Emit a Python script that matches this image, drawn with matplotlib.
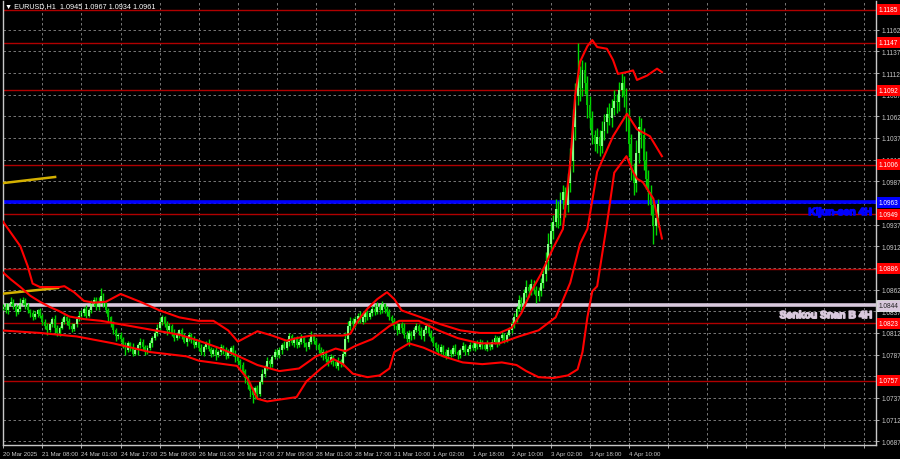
import matplotlib
matplotlib.use('Agg')
import matplotlib.pyplot as plt
import matplotlib.patheffects as pe
from matplotlib import font_manager
from matplotlib.transforms import blended_transform_factory

# hourly closes, 20 Mar 16:00 .. 4 Apr 22:00
closes = [
    1.0842, 1.0838, 1.0845, 1.0848, 1.0843, 1.0836, 1.0840, 1.0846, 1.0850, 1.0844, 1.0838, 1.0835, 1.0830, 1.0834, 1.0838, 1.0832,
    1.0825, 1.0820, 1.0815, 1.0822, 1.0828, 1.0818, 1.0812, 1.0818, 1.0825, 1.0830, 1.0826, 1.0820, 1.0816, 1.0822, 1.0828, 1.0832,
    1.0835, 1.0840, 1.0832, 1.0838, 1.0845, 1.0850, 1.0842, 1.0848, 1.0855, 1.0846, 1.0838, 1.0830, 1.0822, 1.0815, 1.0808, 1.0810,
    1.0805, 1.0798, 1.0792, 1.0800, 1.0795, 1.0788, 1.0792, 1.0798, 1.0802, 1.0796, 1.0790, 1.0795, 1.0800, 1.0806, 1.0812, 1.0818,
    1.0825, 1.0830, 1.0822, 1.0815, 1.0820, 1.0812, 1.0806, 1.0810, 1.0815, 1.0808, 1.0802, 1.0806, 1.0810, 1.0804, 1.0798, 1.0802,
    1.0795, 1.0790, 1.0796, 1.0800, 1.0794, 1.0788, 1.0792, 1.0786, 1.0790, 1.0796, 1.0792, 1.0785, 1.0790, 1.0795, 1.0788, 1.0784,
    1.0780, 1.0775, 1.0768, 1.0760, 1.0752, 1.0745, 1.0740, 1.0748, 1.0742, 1.0755, 1.0765, 1.0772, 1.0780, 1.0776, 1.0784, 1.0790,
    1.0786, 1.0792, 1.0798, 1.0795, 1.0802, 1.0808, 1.0800, 1.0805, 1.0798, 1.0802, 1.0806, 1.0800, 1.0796, 1.0802, 1.0808, 1.0803,
    1.0798, 1.0792, 1.0786, 1.0790, 1.0782, 1.0778, 1.0784, 1.0778, 1.0774, 1.0780, 1.0776, 1.0788, 1.0805, 1.0820, 1.0826, 1.0822,
    1.0828, 1.0832, 1.0825, 1.0830, 1.0836, 1.0830, 1.0835, 1.0840, 1.0836, 1.0842, 1.0838, 1.0845, 1.0840, 1.0836, 1.0830, 1.0826,
    1.0820, 1.0815, 1.0822, 1.0818, 1.0810, 1.0805, 1.0812, 1.0808, 1.0815, 1.0820, 1.0814, 1.0808, 1.0815, 1.0820, 1.0812, 1.0806,
    1.0800, 1.0795, 1.0790, 1.0796, 1.0790, 1.0785, 1.0792, 1.0788, 1.0795, 1.0790, 1.0786, 1.0792, 1.0797, 1.0790, 1.0794, 1.0798,
    1.0795, 1.0800, 1.0796, 1.0802, 1.0798, 1.0794, 1.0800, 1.0796, 1.0802, 1.0806, 1.0800, 1.0806, 1.0810, 1.0804, 1.0810, 1.0815,
    1.0822, 1.0830, 1.0840, 1.0850, 1.0845, 1.0858, 1.0865, 1.0860, 1.0868, 1.0862, 1.0855, 1.0860, 1.0870, 1.0880, 1.0895, 1.0915,
    1.0930, 1.0940, 1.0955, 1.0945, 1.0965, 1.0975, 1.0960, 1.0985, 1.1010, 1.1050, 1.1085, 1.1110, 1.1095, 1.1115, 1.1100, 1.1075,
    1.1060, 1.1040, 1.1030, 1.1038, 1.1028, 1.1045, 1.1055, 1.1065, 1.1060, 1.1072, 1.1080, 1.1078, 1.1092, 1.1100, 1.1085, 1.1060,
    1.1030, 1.1000, 1.0985, 1.1020, 1.1050, 1.1040, 1.1010, 1.0990, 1.0975, 1.0960, 1.0935, 1.0945, 1.0961,
]
first_open = 1.0840

# wick lengths in pips above / below the body
up_wick = [
    3, 4, 2, 5, 3, 2, 4, 6, 3, 2, 3, 2, 4, 3, 2, 3,
    2, 3, 4, 3, 2, 5, 3, 2, 4, 3, 2, 3, 4, 2, 3, 5,
    3, 2, 4, 3, 5, 4, 3, 6, 9, 3, 2, 3, 2, 4, 3, 2,
    3, 2, 4, 3, 2, 5, 3, 2, 4, 3, 2, 3, 4, 2, 3, 4,
    5, 3, 2, 4, 3, 2, 4, 3, 2, 3, 4, 2, 3, 2, 4, 3,
    3, 4, 2, 3, 5, 2, 3, 4, 2, 3, 2, 4, 3, 2, 3, 4,
    3, 2, 3, 2, 4, 3, 5, 3, 4, 3, 5, 3, 4, 2, 3, 4,
    3, 4, 2, 5, 3, 4, 3, 2, 4, 3, 5, 3, 2, 4, 6, 3,
    3, 2, 4, 3, 2, 3, 4, 2, 3, 4, 2, 5, 8, 6, 4, 3,
    4, 3, 5, 4, 3, 2, 4, 3, 5, 6, 3, 4, 2, 3, 4, 3,
    3, 4, 2, 3, 5, 4, 3, 2, 4, 3, 2, 5, 3, 4, 2, 3,
    3, 2, 4, 3, 2, 3, 4, 2, 3, 4, 2, 3, 4, 2, 3, 3,
    3, 2, 4, 3, 2, 3, 4, 2, 3, 4, 2, 3, 4, 2, 3, 4,
    4, 5, 3, 6, 4, 5, 8, 4, 6, 5, 4, 5, 6, 8, 10, 12,
    10, 8, 12, 9, 10, 8, 6, 12, 15, 20, 15, 37, 10, 12, 10, 8,
    10, 8, 6, 10, 8, 12, 10, 8, 12, 10, 12, 8, 10, 12, 8, 10,
    10, 12, 8, 15, 12, 10, 8, 12, 10, 8, 6, 8, 6,
]
down_wick = [
    2, 3, 4, 2, 3, 5, 2, 3, 2, 4, 3, 5, 3, 2, 4, 3,
    4, 3, 5, 2, 3, 6, 4, 3, 2, 3, 5, 4, 3, 2, 3, 2,
    2, 4, 3, 2, 3, 2, 4, 3, 2, 4, 3, 5, 3, 4, 5, 3,
    4, 3, 5, 2, 4, 3, 2, 5, 3, 4, 3, 2, 3, 4, 2, 3,
    3, 4, 3, 5, 2, 4, 3, 2, 4, 3, 2, 5, 3, 4, 3, 2,
    4, 3, 5, 2, 3, 4, 3, 5, 2, 3, 4, 3, 2, 4, 3, 5,
    4, 5, 3, 6, 5, 7, 9, 4, 6, 3, 2, 4, 3, 5, 3, 2,
    2, 3, 4, 2, 3, 5, 2, 4, 3, 2, 3, 4, 5, 2, 3, 4,
    4, 3, 2, 5, 3, 4, 2, 4, 3, 5, 3, 2, 3, 4, 5, 3,
    3, 4, 2, 3, 5, 3, 2, 4, 3, 2, 4, 3, 5, 4, 3, 5,
    4, 5, 3, 6, 4, 3, 8, 4, 3, 2, 4, 3, 5, 3, 4, 3,
    3, 4, 3, 2, 4, 3, 2, 4, 3, 2, 4, 3, 2, 4, 3, 3,
    3, 4, 2, 3, 4, 2, 3, 4, 2, 3, 4, 2, 3, 4, 3, 2,
    3, 4, 5, 3, 6, 4, 5, 6, 4, 5, 8, 6, 5, 6, 8, 10,
    8, 10, 6, 12, 8, 10, 14, 8, 10, 12, 15, 10, 15, 10, 12, 15,
    12, 10, 8, 10, 12, 8, 10, 12, 8, 10, 8, 12, 10, 8, 12, 15,
    15, 12, 14, 10, 12, 15, 10, 12, 15, 12, 20, 10, 11,
]

# red envelope lines (bar index, price)
upper_idx = [-1, 3, 7, 10, 12, 15, 23, 25, 29, 33, 37, 42, 48, 56, 64, 72, 80, 86, 92, 96, 100, 104, 110, 116, 120,
             126, 132, 139, 142, 145, 149, 153, 157, 160, 163, 171, 179, 187, 195, 203, 208, 212, 216, 220, 225,
             229, 232, 234, 236, 239, 241, 243, 247, 249.5, 251.5, 255, 257.7, 259.3, 263.4, 267.5, 269.5]
upper_px = [1.0944, 1.0928, 1.0912, 1.0889, 1.0869, 1.0865, 1.0865, 1.0866, 1.0859, 1.0849, 1.0847, 1.0848, 1.0857,
            1.0848, 1.0838, 1.0830, 1.0826, 1.0826, 1.0815, 1.0802, 1.0808, 1.0814, 1.0809, 1.0803, 1.0806,
            1.0809, 1.0809, 1.0809, 1.0811, 1.0826, 1.0840, 1.0851, 1.0859, 1.0851, 1.0838, 1.0830, 1.0822,
            1.0815, 1.0812, 1.0812, 1.0818, 1.0835, 1.0860, 1.0880, 1.0910,
            1.0932, 1.1009, 1.1086, 1.1125, 1.1143, 1.1150, 1.1142, 1.1140, 1.1127, 1.1111, 1.1113, 1.1115,
            1.1104, 1.1109, 1.1117, 1.1113]
middle_idx = [-1, 3, 7, 11, 15, 19, 23, 27, 33, 40, 48, 56, 64, 72, 80, 88, 95.6, 104, 113, 121, 128, 136, 140,
              144, 151, 158, 162, 170, 178, 186, 195, 203, 211, 219, 226, 232, 236, 239, 243, 249.5, 255.2,
              259.3, 264.6, 269.5]
middle_px = [1.0884, 1.0874, 1.0865, 1.0855, 1.0848, 1.0842, 1.0837, 1.0831, 1.0828, 1.0826, 1.0822, 1.0818, 1.0814,
             1.0810, 1.0803, 1.0795, 1.0786, 1.0775, 1.0768, 1.0771, 1.0785, 1.0794, 1.0791, 1.0797, 1.0805,
             1.0820, 1.0826, 1.0826, 1.0815, 1.0806, 1.0800, 1.0800, 1.0808, 1.0815, 1.0830, 1.0870, 1.0915,
             1.0932, 1.0998, 1.1039, 1.1065, 1.1047, 1.1039, 1.1016]
lower_idx = [-1, 15, 30, 45, 60, 75, 80, 95.6, 100, 104, 108, 120, 124, 130, 135, 139, 143, 149, 154, 158, 160,
             166, 172, 180, 188, 196, 204, 210, 214, 219, 225, 231, 235, 237, 239, 241, 243, 247, 250, 255,
             257.7, 259.3, 261.7, 266, 269.5]
lower_px = [1.0815, 1.0812, 1.0808, 1.0800, 1.0790, 1.0785, 1.0780, 1.0774, 1.0759, 1.0736, 1.0733, 1.0738,
            1.0756, 1.0771, 1.0782, 1.0776, 1.0765, 1.0761, 1.0763, 1.0771, 1.0790, 1.0800, 1.0795, 1.0785,
            1.0778, 1.0776, 1.0778, 1.0775, 1.0768, 1.0761, 1.0760, 1.0763, 1.0770, 1.0790, 1.0830, 1.0860,
            1.0866, 1.0938, 1.0997, 1.1016, 1.0998, 1.0990, 1.0986, 1.0967, 1.0921]

# short yellow segments at the left
yellow_idx = [[0, 21.2], [-1.3, 22.4]]
yellow_px = [[1.0985, 1.0992], [1.0857, 1.0864]]

red_levels = [1.1185, 1.1147, 1.1092, 1.1006, 1.0949, 1.0886, 1.0823, 1.0757]
kijun = 1.0963
senkou_b = 1.0844

grid_prices = [1.0687 + 0.0025 * k for k in range(20)]
hidden_ticks = ['1.1187', '1.0962', '1.0887']
time_labels = ['20 Mar 2025', '21 Mar 08:00', '24 Mar 01:00', '24 Mar 17:00', '25 Mar 09:00', '26 Mar 01:00',
               '26 Mar 17:00', '27 Mar 09:00', '28 Mar 01:00', '28 Mar 17:00', '31 Mar 10:00', '1 Apr 02:00',
               '1 Apr 18:00', '2 Apr 10:00', '3 Apr 02:00', '3 Apr 18:00', '4 Apr 10:00']

# pick a narrow face if there is one
installed = {f.name for f in font_manager.fontManager.ttflist}
if 'Liberation Sans Narrow' in installed:
    small_font, small_size, x_size = 'Liberation Sans Narrow', 5.6, 5.1
    cap_font, cap_size = 'Liberation Sans Narrow', 10.5
else:
    small_font, small_size, x_size = 'Liberation Sans', 4.7, 4.4
    cap_font, cap_size = 'Liberation Sans', 7.5
small_fam = [small_font, 'DejaVu Sans']

opens = [first_open] + closes[:-1]
pip = 0.0001

fig = plt.figure(figsize=(9, 4.6), dpi=100, facecolor='black')
ax = fig.add_axes([3 / 900, 14 / 460, 873 / 900, 444 / 460])
ax.set_facecolor('black')
ax.set_xlim(-0.12, 357.1)
ax.set_ylim(1.06827, 1.11951)

# grid
ax.set_axisbelow(True)
ax.grid(True, color='#8a8a8a', linestyle=(0, (3, 3)), linewidth=0.6)

# horizontal levels
for lv in red_levels:
    ax.axhline(lv, color='#b00000', linewidth=1.0, zorder=2)
ax.axhline(kijun, color='#0000ff', linewidth=2.6, zorder=2)
ax.axhline(senkou_b, color='#d8c8dc', linewidth=2.6, zorder=2)

# yellow segments
for xs, ys in zip(yellow_idx, yellow_px):
    ax.plot(xs, ys, color='#d4b000', linewidth=1.8, zorder=3)

# candles
n = len(closes)
for i in range(n):
    o, c = opens[i], closes[i]
    hi = max(o, c) + up_wick[i] * pip
    lo = min(o, c) - down_wick[i] * pip
    bull = c >= o
    ax.vlines(i, lo, hi, color='#00d800', linewidth=1.0, zorder=4)
    h = max(abs(c - o), 0.00006)
    ax.bar(i, h, bottom=min(o, c), width=0.8,
           color='#80ff80' if bull else '#00c000', linewidth=0, zorder=5)

# red bands
for xs, ys in [(upper_idx, upper_px), (middle_idx, middle_px), (lower_idx, lower_px)]:
    ax.plot(xs, ys, color='#ff0000', linewidth=1.5, zorder=6, solid_joinstyle='round')

# axes look
for side in ['left', 'bottom', 'right']:
    ax.spines[side].set_color('#c8c8c8')
    ax.spines[side].set_linewidth(1.0)
ax.spines['top'].set_visible(False)

ax.yaxis.tick_right()
ax.set_yticks(grid_prices)
ylabels = []
for p in grid_prices:
    s = f'{p:.4f}'
    ylabels.append('' if s in hidden_ticks else s)
ax.set_yticklabels(ylabels, family=small_fam)
xt = list(range(0, 353, 16))
ax.set_xticks(xt)
ax.set_xticklabels(time_labels + [''] * (len(xt) - len(time_labels)), ha='left', family=small_fam)
ax.tick_params(axis='both', colors='#c8c8c8', length=2, width=0.6, pad=2)
ax.tick_params(axis='y', labelsize=small_size, pad=2)
ax.tick_params(axis='x', labelsize=x_size)

# price boxes on the right axis
tr = blended_transform_factory(ax.transAxes, ax.transData)
box_kw = dict(transform=tr, fontsize=small_size, family=small_fam, va='center', ha='left', clip_on=False, zorder=10)
for lv in red_levels:
    ax.text(1.003, lv, f'{lv:.4f}', color='white',
            bbox=dict(boxstyle='square,pad=0.3', facecolor='#ff0000', edgecolor='none'), **box_kw)
ax.text(1.003, kijun, f'{kijun:.4f}', color='white',
        bbox=dict(boxstyle='square,pad=0.3', facecolor='#0000ff', edgecolor='none'), **box_kw)
ax.text(1.003, senkou_b, f'{senkou_b:.4f}', color='#202020',
        bbox=dict(boxstyle='square,pad=0.3', facecolor='#d8c8dc', edgecolor='#ffffff', linewidth=0.5), **box_kw)

# line captions (heavy condensed look)
ax.text(0.9955, kijun - 0.00115, 'Kijun-sen 4H', transform=tr, fontsize=cap_size, fontweight='bold',
        family=[cap_font, 'DejaVu Sans'], color='#0000ff', ha='right', va='center', zorder=11,
        path_effects=[pe.withStroke(linewidth=1.0, foreground='#0000ff')])
ax.text(0.9955, senkou_b - 0.00115, 'Senkou Snan B 4H', transform=tr, fontsize=cap_size, fontweight='bold',
        family=[cap_font, 'DejaVu Sans'], color='#d8c8dc', ha='right', va='center', zorder=11,
        path_effects=[pe.withStroke(linewidth=1.0, foreground='#d8c8dc')])

fig.text(5 / 900, 1 - 7 / 460, '\u25bc EURUSD,H1  1.0945 1.0967 1.0934 1.0961', fontsize=5.2,
         family=small_fam, color='white', va='center', ha='left')

fig.savefig('out.png', dpi=100, facecolor='black')
